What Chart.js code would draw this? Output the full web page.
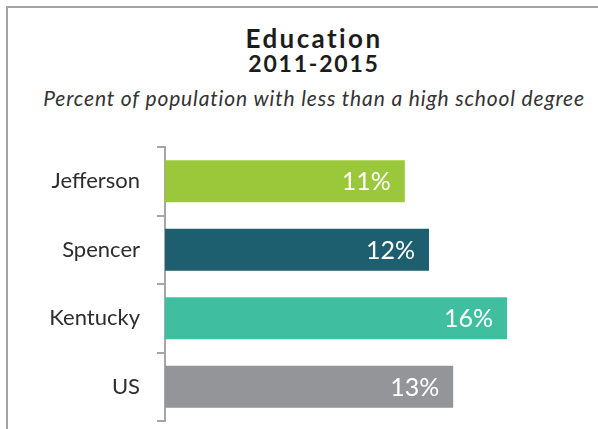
<!DOCTYPE html>
<html>
<head>
<meta charset="utf-8">
<script src="https://cdn.jsdelivr.net/npm/chart.js@4.4.1/dist/chart.umd.min.js"></script>
<style>
  html, body { margin: 0; padding: 0; background: #fff; }
  #wrap { position: relative; width: 598px; height: 429px; overflow: hidden; font-family: Lato, "Open Sans", sans-serif; }
  #frame { position: absolute; left: 6px; top: 6px; right: -2px; bottom: -2px; border-top: 2px solid #a3a3a3; border-left: 2px solid #a3a3a3; }
  .t { position: absolute; left: 30px; width: 568px; text-align: center; white-space: nowrap; }
  #t1 { top: 23px; font-size: 26px; font-weight: bold; color: #1c1c1c; line-height: 30px; letter-spacing: 2.4px; }
  #t2 { top: 50px; font-size: 23px; font-weight: bold; color: #1c1c1c; line-height: 26px; letter-spacing: 1.8px; }
  #t3 { top: 86px; font-size: 21px; font-style: italic; color: #333; line-height: 24px; letter-spacing: 0.85px; }
  #c { position: absolute; left: 0; top: 0; }
</style>
</head>
<body>
<div id="wrap">
  <div id="frame"></div>
  <div class="t" id="t1">Education</div>
  <div class="t" id="t2">2011-2015</div>
  <div class="t" id="t3">Percent of population with less than a high school degree</div>
  <canvas id="c" width="598" height="429"></canvas>
</div>
<script>
const categories = ["Jefferson", "Spencer", "Kentucky", "US"];
const values = [10.9, 12.0, 15.55, 13.1];
const barColors = ["#9bc83b", "#1e5f6f", "#40bfa0", "#939598"];

const valueLabels = {
    id: "valueLabels",
    afterDatasetsDraw(chart) {
        const ctx = chart.ctx;
        const meta = chart.getDatasetMeta(0);
        ctx.save();
        ctx.fillStyle = "#ffffff";
        ctx.font = "25px Lato, 'Open Sans', sans-serif";
        ctx.textAlign = "right";
        ctx.textBaseline = "middle";
        meta.data.forEach((bar, i) => {
            ctx.fillText(Math.round(values[i]) + "%", bar.x - 14, bar.y + 1);
        });
        ctx.restore();
    }
};

new Chart(document.getElementById("c"), {
    type: "bar",
    data: {
        labels: categories,
        datasets: [{
            data: values,
            backgroundColor: barColors,
            barPercentage: 0.61,
            categoryPercentage: 1.0
        }]
    },
    options: {
        indexAxis: "y",
        responsive: false,
        animation: false,
        layout: { padding: { top: 147, bottom: 8, left: 0, right: 15 } },
        plugins: {
            legend: { display: false },
            tooltip: { enabled: false }
        },
        scales: {
            x: { display: false, min: 0, max: 19 },
            y: {
                afterFit(scale) {
                    scale.width = 165;
                    scale.paddingTop = 0;
                    scale.paddingBottom = 0;
                },
                grid: { drawOnChartArea: false, tickLength: 8, color: "#a6a6a6", lineWidth: 2 },
                border: { color: "#a6a6a6", width: 2 },
                ticks: {
                    padding: 17,
                    color: "#2d2d2d",
                    font: { family: "Lato, 'Open Sans', sans-serif", size: 22 }
                }
            }
        }
    },
    plugins: [valueLabels]
});
</script>
</body>
</html>
